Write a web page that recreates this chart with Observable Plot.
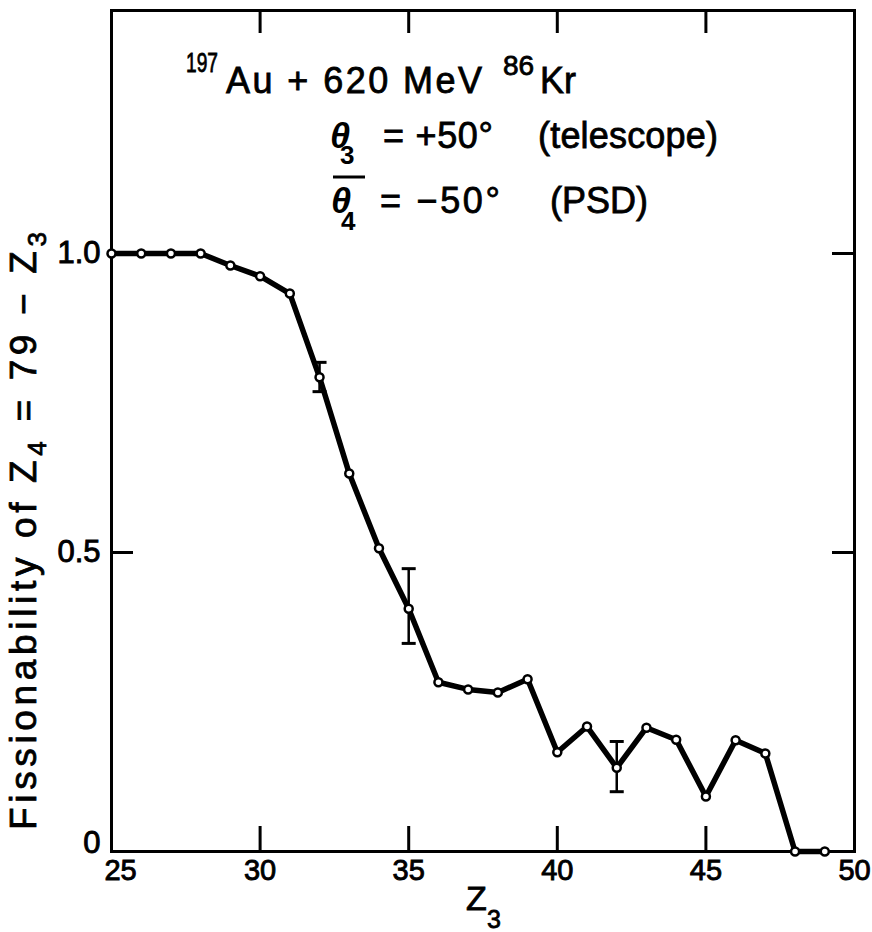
<!DOCTYPE html>
<html>
<head>
<meta charset="utf-8">
<script src="https://cdn.jsdelivr.net/npm/d3@7"></script>
<script src="https://cdn.jsdelivr.net/npm/@observablehq/plot@0.6"></script>
<style>
  html, body { margin: 0; padding: 0; background: #fff; }
  svg { display: block; }
</style>
</head>
<body>
<div id="chart"></div>
<script>
// Fissionability of the target-like fragment versus projectile-like Z3
const z3 = [25, 26, 27, 28, 29, 30, 31, 32, 33, 34, 35, 36, 37, 38, 39, 40, 41, 42, 43, 44, 45, 46, 47, 48, 49];
const fissionability = [1.0, 1.0, 1.0, 1.0, 0.98, 0.962, 0.933, 0.793, 0.632, 0.507, 0.406, 0.283, 0.271, 0.266, 0.288,
                        0.166, 0.209, 0.140, 0.207, 0.187, 0.092, 0.186, 0.164, 0, 0];

// Representative error bars
const errorZ = [32, 35, 42];
const errorLow = [0.769, 0.348, 0.100];
const errorHigh = [0.818, 0.473, 0.184];

// Axis ticks
const xTickLabels = [25, 30, 35, 40, 45, 50];
const yTickLabels = [0, 0.5, 1.0];
const xInnerTicks = [30, 35, 40, 45];
const yInnerTicks = [0.5, 1.0];

const points = z3.map((z, i) => ({z, f: fissionability[i]}));
const bars = errorZ.map((z, i) => ({z, lo: errorLow[i], hi: errorHigh[i]}));

const width = 872, height = 932;
const marginLeft = 111, marginRight = 18, marginTop = 10, marginBottom = 81;
const innerW = width - marginLeft - marginRight;
const innerH = height - marginTop - marginBottom;
const font = "'Liberation Sans', Arial, Helvetica, sans-serif";

// horizontal cap for error bars
const capSymbol = {
  draw(ctx, size) {
    const r = Math.sqrt(size / Math.PI);
    ctx.moveTo(-r, 0);
    ctx.lineTo(r, 0);
  }
};

const plot = Plot.plot({
  width, height, marginLeft, marginRight, marginTop, marginBottom,
  style: {fontFamily: font, background: "white", color: "black"},
  x: {domain: [25, 50]},
  y: {domain: [0, 1.4064]},
  marks: [
    Plot.axisX(xTickLabels, {anchor: "bottom", tickSize: 0, tickPadding: 8, fontSize: 29, label: null}),
    Plot.axisY(yTickLabels, {anchor: "left", tickSize: 0, tickPadding: 11, fontSize: 31, label: null,
      tickFormat: d => d === 0 ? "0" : d.toFixed(1)}),
    // inward ticks on all four sides
    Plot.tickX(xInnerTicks, {insetBottom: innerH - 23, stroke: "black", strokeWidth: 3}),
    Plot.tickX(xInnerTicks, {insetTop: innerH - 25, stroke: "black", strokeWidth: 3}),
    Plot.tickY(yInnerTicks, {insetRight: innerW - 22, stroke: "black", strokeWidth: 3}),
    Plot.tickY(yInnerTicks, {insetLeft: innerW - 22, stroke: "black", strokeWidth: 3}),
    Plot.frame({stroke: "black", strokeWidth: 3}),
    // error bars
    Plot.ruleX(bars, {x: "z", y1: "lo", y2: "hi", stroke: "black", strokeWidth: 2.5}),
    Plot.dot(bars, {x: "z", y: "lo", symbol: capSymbol, r: 7, fill: "none", stroke: "black", strokeWidth: 3}),
    Plot.dot(bars, {x: "z", y: "hi", symbol: capSymbol, r: 7, fill: "none", stroke: "black", strokeWidth: 3}),
    // data
    Plot.line(points, {x: "z", y: "f", stroke: "black", strokeWidth: 5.5, strokeLinejoin: "round"}),
    Plot.dot(points, {x: "z", y: "f", r: 4, fill: "white", stroke: "black", strokeWidth: 2.5})
  ]
});

document.getElementById("chart").appendChild(plot);

const svg = d3.select(plot);

// heavier lettering for the tick labels
svg.selectAll('g[aria-label$="tick label"]')
  .attr("stroke", "black")
  .attr("stroke-width", 0.9);

// keep the corner labels "0" and "25" clear of each other
svg.selectAll('g[aria-label="y-axis tick label"] text')
  .filter(function() { return this.textContent === "0"; })
  .attr("dy", null)
  .attr("transform", function() { return (this.getAttribute("transform") || "") + " translate(0,-8)"; });
svg.selectAll('g[aria-label="x-axis tick label"] text')
  .filter(function() { return this.textContent === "25"; })
  .attr("transform", function() { return (this.getAttribute("transform") || "") + " translate(9,0)"; });

// Annotations and axis titles
const g = svg.append("g")
  .attr("font-family", font)
  .attr("text-anchor", "start")
  .attr("fill", "black")
  .attr("stroke", "black")
  .attr("stroke-width", 0.8);

function put(x, y, s, size, extra = {}) {
  const t = g.append("text").attr("x", x).attr("y", y).attr("font-size", size).text(s);
  for (const [k, v] of Object.entries(extra)) t.attr(k, v);
  return t;
}

// reaction line
put(186, 72, "197", 28, {textLength: 32, lengthAdjust: "spacingAndGlyphs"});
put(226, 93, "Au + 620 MeV", 36, {textLength: 256, lengthAdjust: "spacing"});
put(503, 75, "86", 28);
put(540, 93, "Kr", 36);

// telescope angle
put(330, 148, "θ", 36, {"font-style": "italic", "font-weight": "bold", "stroke-width": 0});
put(340, 164, "3", 26, {"font-weight": "bold", "stroke-width": 0});
put(383, 148, "= +50°", 36, {textLength: 110, lengthAdjust: "spacing"});
put(538, 148, "(telescope)", 36, {textLength: 180, lengthAdjust: "spacing"});

// PSD angle (with overbar)
g.append("line").attr("x1", 333).attr("x2", 365).attr("y1", 177).attr("y2", 177)
  .attr("stroke", "black").attr("stroke-width", 3);
put(331, 213, "θ", 36, {"font-style": "italic", "font-weight": "bold", "stroke-width": 0});
put(341, 230, "4", 26, {"font-weight": "bold", "stroke-width": 0});
put(380, 213, "= −50°", 36, {textLength: 120, lengthAdjust: "spacing"});
put(550, 213, "(PSD)", 36);

// y-axis title
const yt = g.append("text")
  .attr("transform", "translate(36,531) rotate(-90)")
  .attr("text-anchor", "middle")
  .attr("font-size", 37)
  .attr("textLength", 598)
  .attr("lengthAdjust", "spacing");
yt.append("tspan").text("Fissionability of Z");
yt.append("tspan").attr("dy", 10).attr("font-size", 26).text("4");
yt.append("tspan").attr("dy", -10).text(" = 79 − Z");
yt.append("tspan").attr("dy", 10).attr("font-size", 26).text("3");

// x-axis title
put(466, 910, "Z", 34);
put(487, 928, "3", 25);
</script>
</body>
</html>
